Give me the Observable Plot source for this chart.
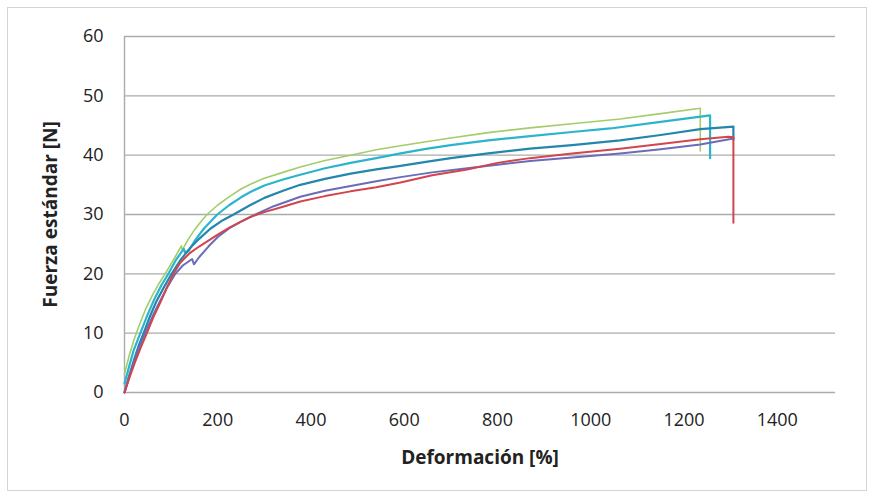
<!DOCTYPE html>
<html>
<head>
<meta charset="utf-8">
<script src="https://cdn.jsdelivr.net/npm/d3@7"></script>
<script src="https://cdn.jsdelivr.net/npm/@observablehq/plot@0.6"></script>
<style>
  html, body { margin: 0; padding: 0; background: #ffffff; }
  #wrap { position: relative; width: 874px; height: 499px; }
  #frame { position: absolute; left: 7px; top: 7px; width: 858px; height: 482px; border: 1px solid #d4d4d4; pointer-events: none; }
  svg { display: block; }
</style>
</head>
<body>
<div id="wrap"><div id="frame"></div></div>
<script>
// ---- data ----
const xTicks = [0, 200, 400, 600, 800, 1000, 1200, 1400];
const yTicks = [0, 10, 20, 30, 40, 50, 60];
const xTitle = "Deformación [%]";
const yTitle = "Fuerza estándar [N]";

const greenX = [0, 10, 20, 30, 45, 60, 75, 87, 100, 112, 122, 124, 135, 150, 165, 177, 200, 225, 250, 270, 300, 340, 377, 430, 485, 540, 592, 650, 700, 780, 870, 960, 1063, 1150, 1235, 1235];
const greenY = [3.1, 6.2, 8.8, 11, 14, 16.4, 18.5, 20, 21.7, 23.3, 24.7, 24.0, 25.6, 27.4, 28.9, 30, 31.6, 33.0, 34.3, 35.1, 36.1, 37.1, 38.0, 39.1, 40.0, 40.9, 41.6, 42.3, 42.9, 43.8, 44.6, 45.3, 46.1, 47.0, 47.9, 40.7];

const cyanX = [0, 10, 20, 34, 50, 65, 80, 94, 110, 127, 130, 138, 150, 170, 199, 225, 250, 270, 300, 340, 377, 430, 485, 540, 592, 650, 700, 780, 870, 960, 1042, 1150, 1256, 1256];
const cyanY = [1.5, 4.4, 7.2, 10, 13.2, 15.9, 18.2, 20, 22.3, 24.2, 23.6, 23.9, 25.5, 27.6, 30, 31.6, 32.9, 33.8, 34.9, 35.9, 36.7, 37.8, 38.7, 39.5, 40.3, 41.1, 41.7, 42.5, 43.2, 43.9, 44.5, 45.6, 46.7, 39.5];

const tealX = [0, 10, 20, 30, 41, 55, 68, 85, 101, 120, 140, 160, 184, 210, 234, 270, 300, 340, 377, 430, 485, 540, 592, 650, 700, 780, 870, 960, 1063, 1150, 1235, 1306, 1306];
const tealY = [0, 2.8, 5.4, 7.8, 10, 12.9, 15.3, 17.8, 20, 22.3, 24.3, 25.9, 27.6, 29.0, 30, 31.6, 32.8, 34.0, 35.0, 36.0, 36.9, 37.6, 38.2, 38.9, 39.5, 40.3, 41.1, 41.7, 42.5, 43.4, 44.4, 44.8, 42.6];

const purpleX = [0, 10, 20, 32, 44, 60, 75, 92, 109, 125, 145, 149, 160, 180, 200, 225, 250, 281, 320, 377, 430, 485, 540, 592, 660, 735, 800, 870, 960, 1063, 1150, 1235, 1306];
const purpleY = [0, 2.6, 5, 7.6, 10, 12.8, 15.2, 17.8, 20, 21.4, 22.5, 21.6, 22.8, 24.6, 26.2, 27.7, 28.8, 30, 31.4, 33.0, 34.0, 34.8, 35.6, 36.3, 37.1, 37.8, 38.4, 39.0, 39.6, 40.3, 41.0, 41.8, 42.8];

const redX = [0, 11, 22, 35, 48, 62, 77, 91, 105, 120, 140, 160, 180, 200, 225, 250, 270, 300, 340, 377, 430, 485, 540, 592, 660, 735, 800, 870, 960, 1063, 1150, 1235, 1295, 1306, 1306];
const redY = [0, 2.6, 5, 7.6, 10, 12.7, 15.2, 17.7, 20, 21.9, 23.5, 24.6, 25.6, 26.6, 27.8, 28.8, 29.6, 30.4, 31.3, 32.2, 33.1, 33.9, 34.6, 35.4, 36.6, 37.6, 38.7, 39.5, 40.3, 41.1, 41.9, 42.7, 43.1, 43.0, 28.6];

const seriesNames = ["green", "cyan", "teal", "purple", "red"];
const seriesColors = ["#a3cd6b", "#2bb4cc", "#2486ac", "#6a6cb8", "#d2454e"];
const seriesWidths = [1.6, 2.2, 2.2, 2, 2];
const seriesXs = [greenX, cyanX, tealX, purpleX, redX];
const seriesYs = [greenY, cyanY, tealY, purpleY, redY];

const rows = (i) => seriesXs[i].map((x, j) => ({x, y: seriesYs[i][j]}));

const gridColor = "#a7aeaa";
const font = "'Open Sans', 'Liberation Sans', sans-serif";

const lineMarks = seriesNames.map((n, i) =>
  Plot.line(rows(i), {x: "x", y: "y", stroke: seriesColors[i], strokeWidth: seriesWidths[i], strokeLinejoin: "round"})
);

const chart = Plot.plot({
  width: 874,
  height: 499,
  marginLeft: 124,
  marginRight: 39,
  marginTop: 36,
  marginBottom: 107,
  style: {fontFamily: font, fontSize: "18px", color: "#222", background: "transparent"},
  x: {domain: [0, 1525], ticks: xTicks, label: null},
  y: {domain: [0, 60], ticks: yTicks, label: null},
  marks: [
    Plot.ruleY(yTicks, {stroke: gridColor, strokeWidth: 1.4}),
    Plot.ruleX([0], {stroke: gridColor, strokeWidth: 1.4}),
    ...lineMarks,
    Plot.axisX(xTicks, {tickSize: 0, tickPadding: 21, fontSize: 18, label: null, tickFormat: (d) => String(d)}),
    Plot.axisY(yTicks, {tickSize: 0, tickPadding: 21, fontSize: 18, label: null, tickFormat: (d) => String(d)}),
    Plot.text([xTitle], {frameAnchor: "bottom", dy: 71, textAnchor: "middle", fontWeight: "bold", fontSize: 19, fill: "#222"}),
    Plot.text([yTitle], {frameAnchor: "left", dx: -74, rotate: -90, textAnchor: "middle", lineAnchor: "middle", fontWeight: "bold", fontSize: 19, fill: "#222"})
  ]
});
document.getElementById("wrap").prepend(chart);
</script>
</body>
</html>
